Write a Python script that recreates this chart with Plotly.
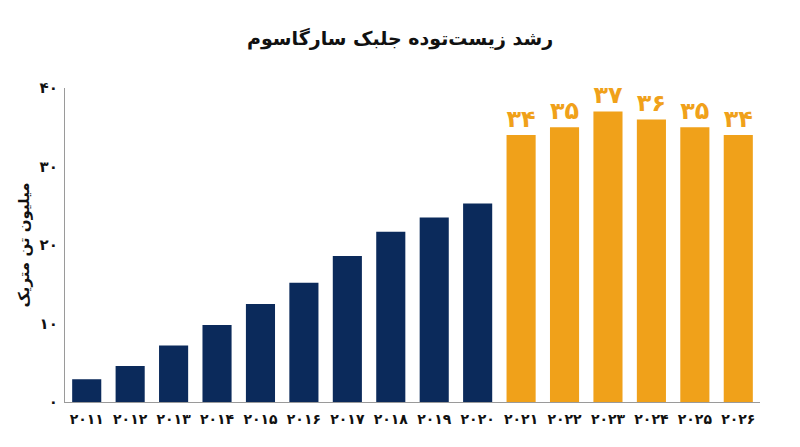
import plotly.graph_objects as go

years = ["۲۰۱۱", "۲۰۱۲", "۲۰۱۳", "۲۰۱۴", "۲۰۱۵", "۲۰۱۶", "۲۰۱۷", "۲۰۱۸",
         "۲۰۱۹", "۲۰۲۰", "۲۰۲۱", "۲۰۲۲", "۲۰۲۳", "۲۰۲۴", "۲۰۲۵", "۲۰۲۶"]
values = [2.9, 4.6, 7.2, 9.8, 12.5, 15.2, 18.6, 21.7, 23.5, 25.3,
          34, 35, 37, 36, 35, 34]
labels = ["", "", "", "", "", "", "", "", "", "",
          "۳۴", "۳۵", "۳۷", "۳۶", "۳۵", "۳۴"]
y_tick_vals = [0, 10, 20, 30, 40]
y_tick_text = ["۰", "۱۰", "۲۰", "۳۰", "۴۰"]
title_text = "رشد زیست‌توده جلبک سارگاسوم"
y_title = "میلیون تن متریک"

NAVY = "#0b2a5b"
ORANGE = "#f0a11a"
colors = [NAVY] * 10 + [ORANGE] * 6

FONT = "DejaVu Sans"

fig = go.Figure(go.Bar(
    x=years, y=values, text=labels, textposition="outside",
    marker=dict(color=colors, line=dict(width=0)),
    textfont=dict(family=FONT, size=31, color=ORANGE, weight="bold"),
    cliponaxis=False, hoverinfo="skip",
))

fig.update_layout(
    width=792, height=439,
    margin=dict(l=57, r=40, t=80, b=45),
    paper_bgcolor="white", plot_bgcolor="white",
    bargap=0.33,
    showlegend=False,
    title=dict(text=title_text, x=0.495, xanchor="center", y=0.932, yanchor="middle",
               font=dict(family=FONT, size=19, color="#111111", weight="bold")),
    xaxis=dict(showline=True, linecolor="#9a9a9a", linewidth=1.2, showgrid=False,
               ticks="", automargin=False, ticklabelstandoff=4,
               tickfont=dict(family=FONT, size=14, color="#111111", weight="bold"),
               fixedrange=True),
    yaxis=dict(range=[0, 40], tickvals=y_tick_vals, ticktext=y_tick_text,
               showline=True, linecolor="#9a9a9a", linewidth=1.2, showgrid=False,
               zeroline=False, ticks="", automargin=False, ticklabelstandoff=3,
               tickfont=dict(family=FONT, size=15, color="#111111", weight="bold"),
               title=dict(text=y_title, standoff=6,
                          font=dict(family=FONT, size=15, color="#111111", weight="bold"))),
)

fig.write_html("out.html")
